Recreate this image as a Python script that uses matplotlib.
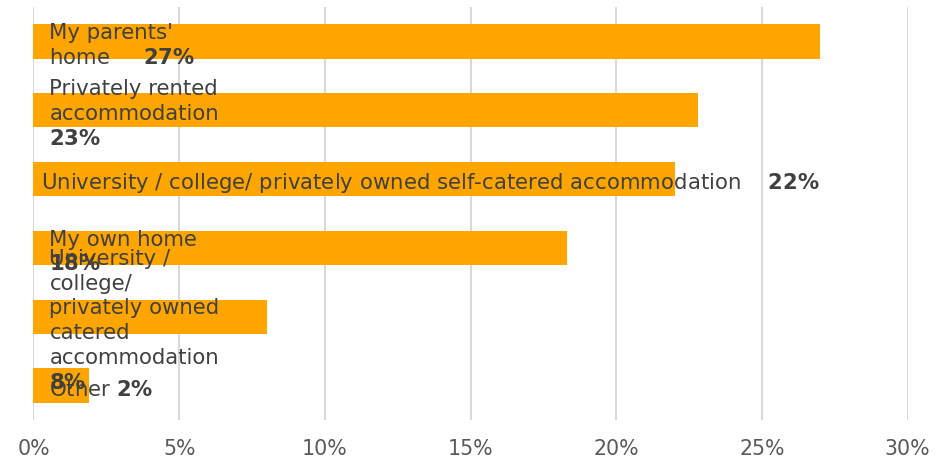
import matplotlib
matplotlib.use("Agg")
import matplotlib.pyplot as plt
from matplotlib.transforms import offset_copy

plt.rcParams['font.family'] = ['DejaVu Sans']
plt.rcParams['mathtext.fontset'] = 'dejavusans'

categories = [
    "My parents'\nhome",
    "Privately rented\naccommodation\n",
    "University / college/ privately owned self-catered accommodation",
    "My own home\n",
    "University /\ncollege/\nprivately owned\ncatered\naccommodation\n",
    "Other",
]
values = [27.0, 22.8, 22.0, 18.3, 8.0, 1.9]
gaps = ["     ", "", "    ", "", "", " "]
label_dx = [16, 16, 8, 16, 16, 16]
xticks = [0, 5, 10, 15, 20, 25, 30]

bar_color = "#FFA500"
text_color = "#404040"
tick_color = "#595959"
grid_color = "#D9D9D9"

fig = plt.figure(figsize=(9.45, 4.61), dpi=100)
ax = fig.add_axes([0.0354, 0.0889, 0.9251, 0.8959])

ypos = list(range(len(categories)))
ax.barh(ypos, values, height=0.5, color=bar_color, zorder=2)
ax.set_ylim(len(categories) - 0.5, -0.5)
ax.set_xlim(0, 30)
ax.set_xticks(xticks)
ax.set_xticklabels([f"{t}%" for t in xticks])
ax.set_yticks([])
ax.grid(axis='x', color=grid_color, linewidth=1.5, zorder=0)
ax.set_axisbelow(True)
for s in ax.spines.values():
    s.set_visible(False)
ax.tick_params(axis='x', length=0, pad=14, labelsize=14.8, labelcolor=tick_color)

for i, (cat, v) in enumerate(zip(categories, values)):
    pct = r"$\mathbf{" + f"{round(v)}" + r"\%}$"
    label = cat + gaps[i] + pct
    tr = offset_copy(ax.transData, fig=fig, x=label_dx[i], y=-4, units='dots')
    ax.text(0, i, label, transform=tr, ha='left', va='center',
            fontsize=15.3, color=text_color, zorder=3, linespacing=1.3)

fig.savefig("out.png", dpi=100)
